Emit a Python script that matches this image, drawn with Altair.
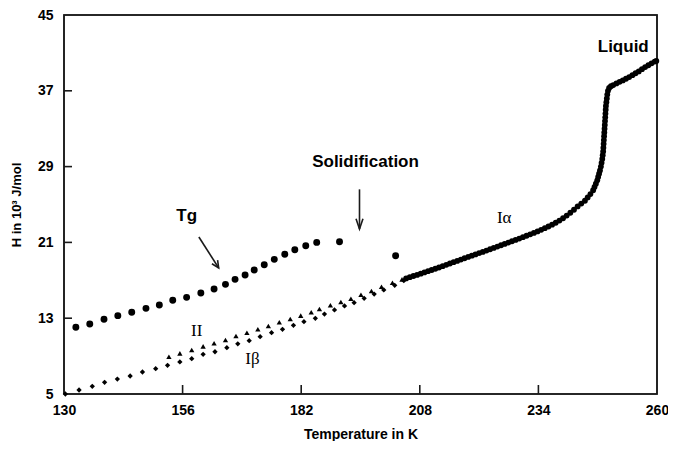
import altair as alt
import pandas as pd

# ---- data ----
tg_T = [132.6, 135.65, 138.77, 141.8, 144.85, 147.97, 150.9, 153.84, 156.88, 160.0, 162.9,
        165.4, 167.5, 169.7, 171.7, 173.9, 176.1, 178.4, 180.6, 183.0, 185.4, 190.4, 202.7]
tg_H = [12.04, 12.39, 12.88, 13.27, 13.62, 14.04, 14.39, 14.89, 15.2, 15.66, 16.08,
        16.57, 17.1, 17.56, 18.09, 18.65, 19.21, 19.74, 20.23, 20.65, 21.0, 21.07, 19.6]

ii_T = [153.0, 155.4, 158.0, 160.5, 162.9, 165.4, 167.7, 170.1, 172.5, 174.8, 177.2, 179.6,
        181.9, 184.2, 186.0, 188.4, 190.7, 192.9, 195.1, 197.4, 199.6, 202.0, 204.1]
ii_H = [8.94, 9.29, 9.64, 10.03, 10.35, 10.7, 11.12, 11.47, 11.83, 12.18, 12.57, 12.92,
        13.27, 13.62, 13.97, 14.36, 14.71, 15.06, 15.48, 15.87, 16.32, 16.75, 17.1]

ib_T = [130.3, 133.3, 136.2, 138.9, 141.7, 144.5, 147.2, 150.1, 152.7, 155.4, 158.0, 160.5,
        163.1, 165.7, 168.1, 170.6, 173.0, 175.5, 177.9, 180.3, 182.6, 185.1, 187.1, 189.3,
        191.5, 193.6, 195.8, 198.0, 200.1, 202.5, 204.5]
ib_H = [5.0, 5.42, 5.81, 6.23, 6.58, 6.9, 7.32, 7.67, 8.03, 8.38, 8.73, 9.19,
        9.46, 9.89, 10.3, 10.63, 11.05, 11.47, 11.83, 12.25, 12.63, 12.99, 13.44, 13.87,
        14.29, 14.64, 15.1, 15.55, 15.98, 16.47, 16.96]

ia_T = [205.0, 205.8, 206.6, 207.4, 208.2, 209.0, 209.8, 210.6, 211.4, 212.2, 213.0, 213.8,
        214.6, 215.4, 216.2, 217.0, 217.8, 218.6, 219.4, 220.2, 221.0, 221.8, 222.6, 223.4,
        224.2, 225.0, 225.8, 226.6, 227.4, 228.2, 229.0, 229.8, 230.6, 231.4, 232.2, 233.0,
        233.8, 234.6, 235.4, 236.2, 237.0, 237.8, 238.6, 239.4, 240.2, 241.0, 241.8, 242.6,
        243.4, 244.2, 244.8, 245.4, 246.0, 246.3, 246.6, 246.9, 247.1, 247.3, 247.5, 247.7,
        247.85, 248.0, 248.1, 248.2, 248.25, 248.3, 248.35, 248.4, 248.45, 248.5, 248.55,
        248.6, 248.65, 248.7, 248.75, 248.8, 248.9, 249.0, 249.1, 249.25, 249.5, 249.9,
        250.4, 251.1, 251.8, 252.5, 253.2, 253.9, 254.6, 255.3, 256.0, 256.7, 257.4, 258.1,
        258.8, 259.5, 259.85]
ia_H = [17.2, 17.33, 17.45, 17.57, 17.7, 17.83, 17.96, 18.09, 18.22, 18.35, 18.49, 18.63,
        18.77, 18.91, 19.05, 19.19, 19.33, 19.47, 19.6, 19.73, 19.86, 20.0, 20.14, 20.28,
        20.42, 20.56, 20.7, 20.84, 20.98, 21.12, 21.26, 21.4, 21.55, 21.7, 21.85, 22.0,
        22.16, 22.33, 22.5, 22.68, 22.87, 23.07, 23.3, 23.55, 23.83, 24.13, 24.45, 24.8,
        25.1, 25.4, 25.75, 26.1, 26.5, 26.85, 27.2, 27.55, 27.9, 28.25, 28.6, 29.0,
        29.4, 29.8, 30.2, 30.6, 31.0, 31.4, 31.8, 32.2, 32.6, 33.0, 33.4,
        33.8, 34.2, 34.6, 35.0, 35.4, 35.8, 36.2, 36.6, 37.0, 37.3, 37.48,
        37.6, 37.78, 37.95, 38.1, 38.27, 38.45, 38.65, 38.85, 39.05, 39.28, 39.5, 39.7,
        39.9, 40.08, 40.15]

x_ticks = [130, 156, 182, 208, 234, 260]
y_ticks = [5, 13, 21, 29, 37, 45]
x_inner = [156, 182, 208, 234]
y_inner = [13, 21, 29, 37]
x_domain = [130, 260]
y_domain = [5, 45]
x_tick_len = 0.95   # inward tick length in H units (~9 px)
y_tick_len = 1.75   # inward tick length in T units (~8 px)

# annotations (data units)
sans_text = ["Tg", "Solidification", "Liquid"]
sans_T = [156.9, 196.1, 252.6]
sans_H = [23.75, 29.5, 41.6]
serif_text = ["II", "I\u03b2", "I\u03b1"]
serif_T = [159.1, 171.3, 226.5]
serif_H = [11.65, 8.69, 23.58]

arrow_seg = ["a", "a", "b", "b", "b", "c", "c", "d", "d", "d"]
arrow_T = [159.57, 163.91, 163.67, 163.91, 162.43, 194.78, 194.78, 194.02, 194.78, 195.54]
arrow_H = [21.57, 18.30, 19.13, 18.30, 18.75, 26.6, 22.41, 23.5, 22.41, 23.5]
arrow_ord = [0, 1, 0, 1, 2, 0, 1, 0, 1, 2]

W, Hh = 593, 379

xs = alt.Scale(domain=x_domain, nice=False, zero=False)
ys = alt.Scale(domain=y_domain, nice=False, zero=False)

FONT = "Liberation Sans"
LINE = "#1a1a1a"

xax = alt.Axis(values=x_ticks, grid=False, ticks=False, domain=False, labelFlush=False,
               labelFont=FONT, labelFontSize=14, labelFontWeight="bold", labelColor="black",
               labelPadding=9, title="Temperature in K", titleFont=FONT, titleFontSize=14,
               titleFontWeight="bold", titleColor="black", titleY=40, titleBaseline="middle")
yax = alt.Axis(values=y_ticks, grid=False, ticks=False, domain=False, labelFlush=False,
               labelFont=FONT, labelFontSize=14, labelFontWeight="bold", labelColor="black",
               labelPadding=11, title="H in 10\u00b3 J/mol", titleFont=FONT, titleFontSize=13,
               titleFontWeight="bold", titleColor="black", titleX=-48, titleBaseline="middle")

tg = pd.DataFrame({"T": tg_T, "H": tg_H})
ii = pd.DataFrame({"T": ii_T, "H": ii_H})
ib = pd.DataFrame({"T": ib_T, "H": ib_H})
ia = pd.DataFrame({"T": ia_T, "H": ia_H})

# frame and inward ticks as line segments in data space
fx0, fx1 = x_domain
fy0, fy1 = y_domain
seg_rows = [("frame", fx0, fy0, 0), ("frame", fx1, fy0, 1), ("frame", fx1, fy1, 2),
            ("frame", fx0, fy1, 3), ("frame", fx0, fy0, 4)]
for t in x_inner:
    seg_rows += [(f"xt{t}", t, fy0, 0), (f"xt{t}", t, fy0 + x_tick_len, 1)]
for h in y_inner:
    seg_rows += [(f"yt{h}", fx0, h, 0), (f"yt{h}", fx0 + y_tick_len, h, 1)]
for s, t, h, o in zip(arrow_seg, arrow_T, arrow_H, arrow_ord):
    seg_rows.append((s, t, h, o))
segs = pd.DataFrame(seg_rows, columns=["seg", "T", "H", "o"])

l_lines = alt.Chart(segs).mark_line(color=LINE, strokeWidth=1.6).encode(
    x=alt.X("T:Q", scale=xs, axis=xax), y=alt.Y("H:Q", scale=ys, axis=yax),
    detail="seg:N", order="o:Q")

l_tg = alt.Chart(tg).mark_circle(size=48, color="black", opacity=1).encode(
    x=alt.X("T:Q", scale=xs), y=alt.Y("H:Q", scale=ys))
l_ii = alt.Chart(ii).mark_point(shape="triangle-up", filled=True, size=28, color="black", opacity=1).encode(
    x=alt.X("T:Q", scale=xs), y=alt.Y("H:Q", scale=ys))
l_ib = alt.Chart(ib).mark_point(shape="diamond", filled=True, size=28, color="black", opacity=1).encode(
    x=alt.X("T:Q", scale=xs), y=alt.Y("H:Q", scale=ys))
l_ia = alt.Chart(ia).mark_circle(size=34, color="black", opacity=1).encode(
    x=alt.X("T:Q", scale=xs), y=alt.Y("H:Q", scale=ys))

sans = pd.DataFrame({"t": sans_text, "T": sans_T, "H": sans_H})
serif = pd.DataFrame({"t": serif_text, "T": serif_T, "H": serif_H})
l_sans = alt.Chart(sans).mark_text(font=FONT, fontSize=17, fontWeight="bold", color="black",
                                   baseline="middle", align="center").encode(
    x=alt.X("T:Q", scale=xs), y=alt.Y("H:Q", scale=ys), text="t:N")
l_serif = alt.Chart(serif).mark_text(font="Liberation Serif", fontSize=17, color="black",
                                     baseline="middle", align="center").encode(
    x=alt.X("T:Q", scale=xs), y=alt.Y("H:Q", scale=ys), text="t:N")

chart = alt.layer(l_lines, l_tg, l_ii, l_ib, l_ia, l_sans, l_serif).properties(
    width=W, height=Hh, autosize=alt.AutoSizeParams(type="none"), background="white",
    padding={"left": 56, "top": 7, "right": 11, "bottom": 47}
).configure_view(stroke=LINE, strokeWidth=1.5)

chart.save("out.html", embed_options={"renderer": "svg", "actions": False})
